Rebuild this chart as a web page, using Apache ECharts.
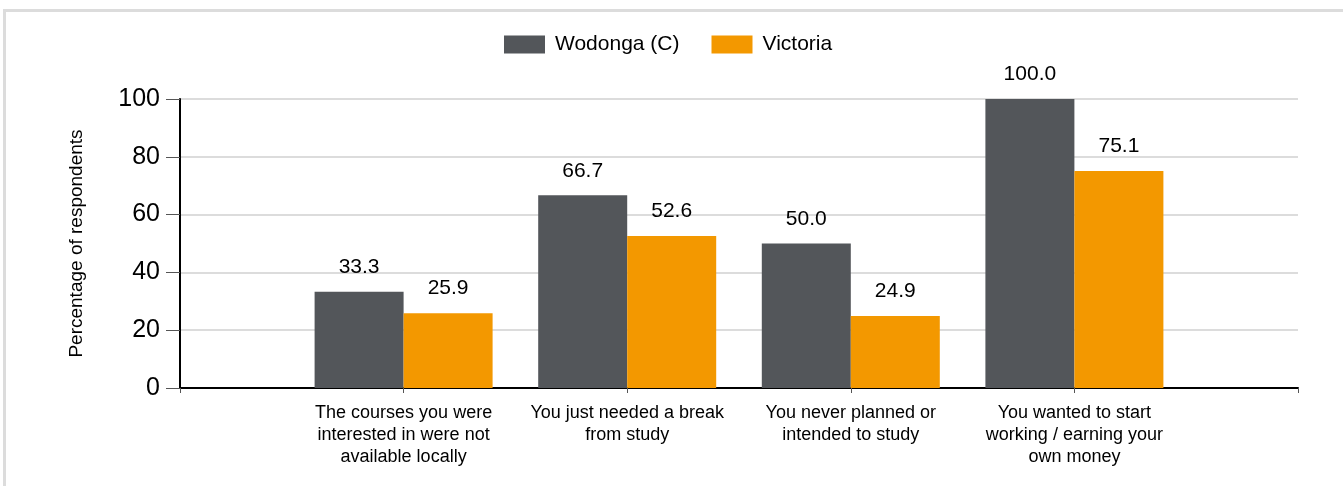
<!DOCTYPE html>
<html>
<head>
<meta charset="utf-8">
<script src="https://cdn.jsdelivr.net/npm/echarts@6/dist/echarts.min.js"></script>
<style>
  html, body { margin: 0; padding: 0; background: #fff; overflow: hidden; }
  #frame {
    position: absolute; left: 3px; top: 9px;
    width: 1400px; height: 600px;
    border: 3px solid #dcdcdc;
  }
  #chart { position: absolute; left: 0; top: 0; width: 1343px; height: 486px; }
</style>
</head>
<body>
<div id="frame"></div>
<div id="chart"></div>
<script>
// 类别（两端留空，用于左右留白）
const categories = [
  '',
  'The courses you were\ninterested in were not\navailable locally',
  'You just needed a break\nfrom study',
  'You never planned or\nintended to study',
  'You wanted to start\nworking / earning your\nown money',
  ''
]

// 系列数据
const wodonga = [null, 33.3, 66.7, 50.0, 100.0, null]
const victoria = [null, 25.9, 52.6, 24.9, 75.1, null]

const fontFamily = '"Liberation Sans", Arial, sans-serif'

const chart = echarts.init(document.getElementById('chart'))

const labelStyle = {
  show: true,
  position: 'top',
  distance: 14,
  color: '#000',
  fontSize: 21,
  fontFamily: fontFamily,
  formatter: p => (p.value == null ? '' : Number(p.value).toFixed(1))
}

const option = {
  animation: false,
  legend: {
    left: 504,
    top: 34,
    padding: 0,
    icon: 'rect',
    itemWidth: 41,
    itemHeight: 18,
    itemGap: 32,
    textStyle: { color: '#000', fontSize: 21, fontFamily: fontFamily, padding: [0, 0, 0, 5] },
    data: ['Wodonga (C)', 'Victoria']
  },
  grid: {
    left: 180,
    right: 45,
    top: 99,
    bottom: 98,
    containLabel: false
  },
  xAxis: {
    type: 'category',
    data: categories,
    boundaryGap: false,
    axisLine: { show: true, lineStyle: { color: '#000', width: 2 } },
    axisTick: { show: true, interval: 0, length: 5, lineStyle: { color: '#555' } },
    axisLabel: {
      interval: 0,
      margin: 14,
      color: '#000',
      fontSize: 18,
      lineHeight: 22,
      fontFamily: fontFamily
    },
    splitLine: { show: false }
  },
  yAxis: {
    type: 'value',
    min: 0,
    max: 100,
    interval: 20,
    name: 'Percentage of respondents',
    nameLocation: 'middle',
    nameGap: 94,
    nameTextStyle: { color: '#000', fontSize: 19, fontFamily: fontFamily },
    axisLine: { show: true, lineStyle: { color: '#000', width: 2 } },
    axisTick: { show: true, length: 14, lineStyle: { color: '#555' } },
    axisLabel: { margin: 20, color: '#000', fontSize: 25, fontFamily: fontFamily },
    splitLine: { show: true, lineStyle: { color: '#dcdcdc', width: 2 } }
  },
  series: [
    {
      name: 'Wodonga (C)',
      type: 'bar',
      data: wodonga,
      barWidth: 89,
      barGap: '0%',
      itemStyle: { color: '#53565a' },
      label: labelStyle
    },
    {
      name: 'Victoria',
      type: 'bar',
      data: victoria,
      barWidth: 89,
      barGap: '0%',
      itemStyle: { color: '#f39800' },
      label: labelStyle
    }
  ]
}

chart.setOption(option)
</script>
</body>
</html>
